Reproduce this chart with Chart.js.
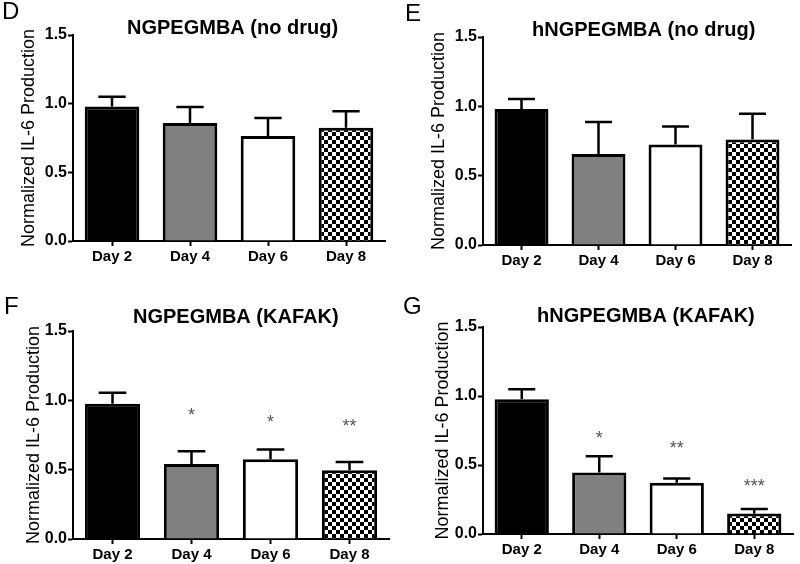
<!DOCTYPE html>
<html>
<head>
<meta charset="utf-8">
<script src="https://cdn.jsdelivr.net/npm/chart.js@4"></script>
<style>
html, body { margin: 0; padding: 0; background: #fff; }
#wrap { position: relative; width: 800px; height: 564px; }
.panel { position: absolute; width: 400px; height: 282px; }
</style>
</head>
<body>
<div id="wrap">
  <div class="panel" style="left:0;top:0"><canvas id="pD" width="400" height="282"></canvas></div>
  <div class="panel" style="left:400px;top:0"><canvas id="pE" width="400" height="282"></canvas></div>
  <div class="panel" style="left:0;top:282px"><canvas id="pF" width="400" height="282"></canvas></div>
  <div class="panel" style="left:400px;top:282px"><canvas id="pG" width="400" height="282"></canvas></div>
</div>
<script>
// data
const days = ['Day 2', 'Day 4', 'Day 6', 'Day 8'];
const yTitle = 'Normalized IL-6 Production';

const meanD = [0.98, 0.86, 0.765, 0.825];
const errD  = [0.07, 0.115, 0.13, 0.12];

const meanE = [0.98, 0.657, 0.725, 0.76];
const errE  = [0.073, 0.23, 0.13, 0.186];

const meanF = [0.975, 0.54, 0.576, 0.495];
const errF  = [0.08, 0.092, 0.07, 0.06];
const starsF = ['', '*', '*', '**'];
const starYF = [null, 0.916, 0.868, 0.839];

const meanG = [0.977, 0.446, 0.371, 0.149];
const errG  = [0.072, 0.118, 0.031, 0.032];
const starsG = ['', '*', '**', '***'];
const starYG = [null, 0.72, 0.644, 0.366];

const FONT = '"Liberation Sans", Arial, sans-serif';

// checkerboard fill for Day 8
function checker() {
    const c = document.createElement('canvas');
    c.width = 8; c.height = 8;
    const g = c.getContext('2d');
    g.fillStyle = '#fff'; g.fillRect(0, 0, 8, 8);
    g.fillStyle = '#000'; g.fillRect(0, 0, 4, 4); g.fillRect(4, 4, 4, 4);
    return g.createPattern(c, 'repeat');
}
const checkPattern = checker();
const barColors = ['#000000', '#808080', '#ffffff', checkPattern];

const panels = [
    { id: 'pD', letter: 'D', title: 'NGPEGMBA (no drug)', mean: meanD, err: errD, stars: [], starY: [],
      box: { axisX: 73, top: 35, bottom: 241, right: 385, titleX: 127, titleY: 34, letterX: 2, letterY: 19, yPad: 18 } },
    { id: 'pE', letter: 'E', title: 'hNGPEGMBA (no drug)', mean: meanE, err: errE, stars: [], starY: [],
      box: { axisX: 83, top: 37, bottom: 245, right: 391, titleX: 132, titleY: 36, letterX: 5, letterY: 21, yPad: 28 } },
    { id: 'pF', letter: 'F', title: 'NGPEGMBA (KAFAK)', mean: meanF, err: errF, stars: starsF, starY: starYF,
      box: { axisX: 73, top: 49, bottom: 257, right: 389, titleX: 133, titleY: 41, letterX: 4, letterY: 32, yPad: 23 } },
    { id: 'pG', letter: 'G', title: 'hNGPEGMBA (KAFAK)', mean: meanG, err: errG, stars: starsG, starY: starYG,
      box: { axisX: 83, top: 45, bottom: 252, right: 393, titleX: 137, titleY: 40, letterX: 3, letterY: 32, yPad: 32 } }
];

// error bars, significance stars, panel title and letter
const decor = {
    id: 'decor',
    afterDatasetsDraw(chart, args, opts) {
        const p = opts.panel;
        const ctx = chart.ctx;
        const y = chart.scales.y;
        const meta = chart.getDatasetMeta(0);
        ctx.save();
        ctx.strokeStyle = '#000';
        ctx.lineWidth = 2.5;
        meta.data.forEach((bar, i) => {
            const yTop = y.getPixelForValue(p.mean[i] + p.err[i]);
            const half = bar.width / 4;
            ctx.beginPath();
            ctx.moveTo(bar.x, bar.y);
            ctx.lineTo(bar.x, yTop);
            ctx.moveTo(bar.x - half, yTop);
            ctx.lineTo(bar.x + half, yTop);
            ctx.stroke();
            if (p.stars[i]) {
                ctx.fillStyle = '#555';
                ctx.font = '18px ' + FONT;
                ctx.textAlign = 'center';
                ctx.textBaseline = 'middle';
                ctx.fillText(p.stars[i], bar.x, y.getPixelForValue(p.starY[i]) + 4);
            }
        });
        ctx.fillStyle = '#000';
        ctx.textAlign = 'left';
        ctx.textBaseline = 'alphabetic';
        ctx.font = 'bold 20px ' + FONT;
        ctx.fillText(p.title, p.box.titleX, p.box.titleY);
        ctx.font = '24px ' + FONT;
        ctx.fillText(p.letter, p.box.letterX, p.box.letterY);
        ctx.restore();
    }
};

const axisGrid = { display: true, drawOnChartArea: false, offset: false, tickLength: 5, tickWidth: 2, tickColor: '#000' };
const axisBorder = { display: true, color: '#000', width: 2 };

const charts = [];
panels.forEach((p) => {
    const b = p.box;
    charts.push(new Chart(document.getElementById(p.id), {
        type: 'bar',
        data: {
            labels: days,
            datasets: [{
                data: p.mean,
                backgroundColor: barColors,
                borderColor: '#000',
                borderWidth: 3,
                barPercentage: 0.7,
                categoryPercentage: 1
            }]
        },
        options: {
            responsive: false,
            animation: false,
            layout: { padding: { top: b.top, right: 400 - b.right, bottom: 0, left: 0 } },
            plugins: { legend: { display: false }, tooltip: { enabled: false }, decor: { panel: p } },
            scales: {
                x: {
                    grid: axisGrid,
                    border: axisBorder,
                    ticks: { color: '#000', font: { family: FONT, size: 15, weight: 'bold' }, padding: 2, maxRotation: 0 },
                    afterFit(s) { s.height = 282 - b.bottom; }
                },
                y: {
                    min: 0,
                    max: 1.5,
                    grid: axisGrid,
                    border: axisBorder,
                    ticks: { stepSize: 0.5, callback: (v) => v.toFixed(1), color: '#000', font: { family: FONT, size: 16, weight: 'bold' }, padding: 1 },
                    title: { display: true, text: yTitle, color: '#000', font: { family: FONT, size: 18 }, padding: { top: b.yPad, bottom: 0 } },
                    afterFit(s) { s.width = b.axisX; }
                }
            }
        },
        plugins: [decor]
    }));
});
</script>
</body>
</html>
